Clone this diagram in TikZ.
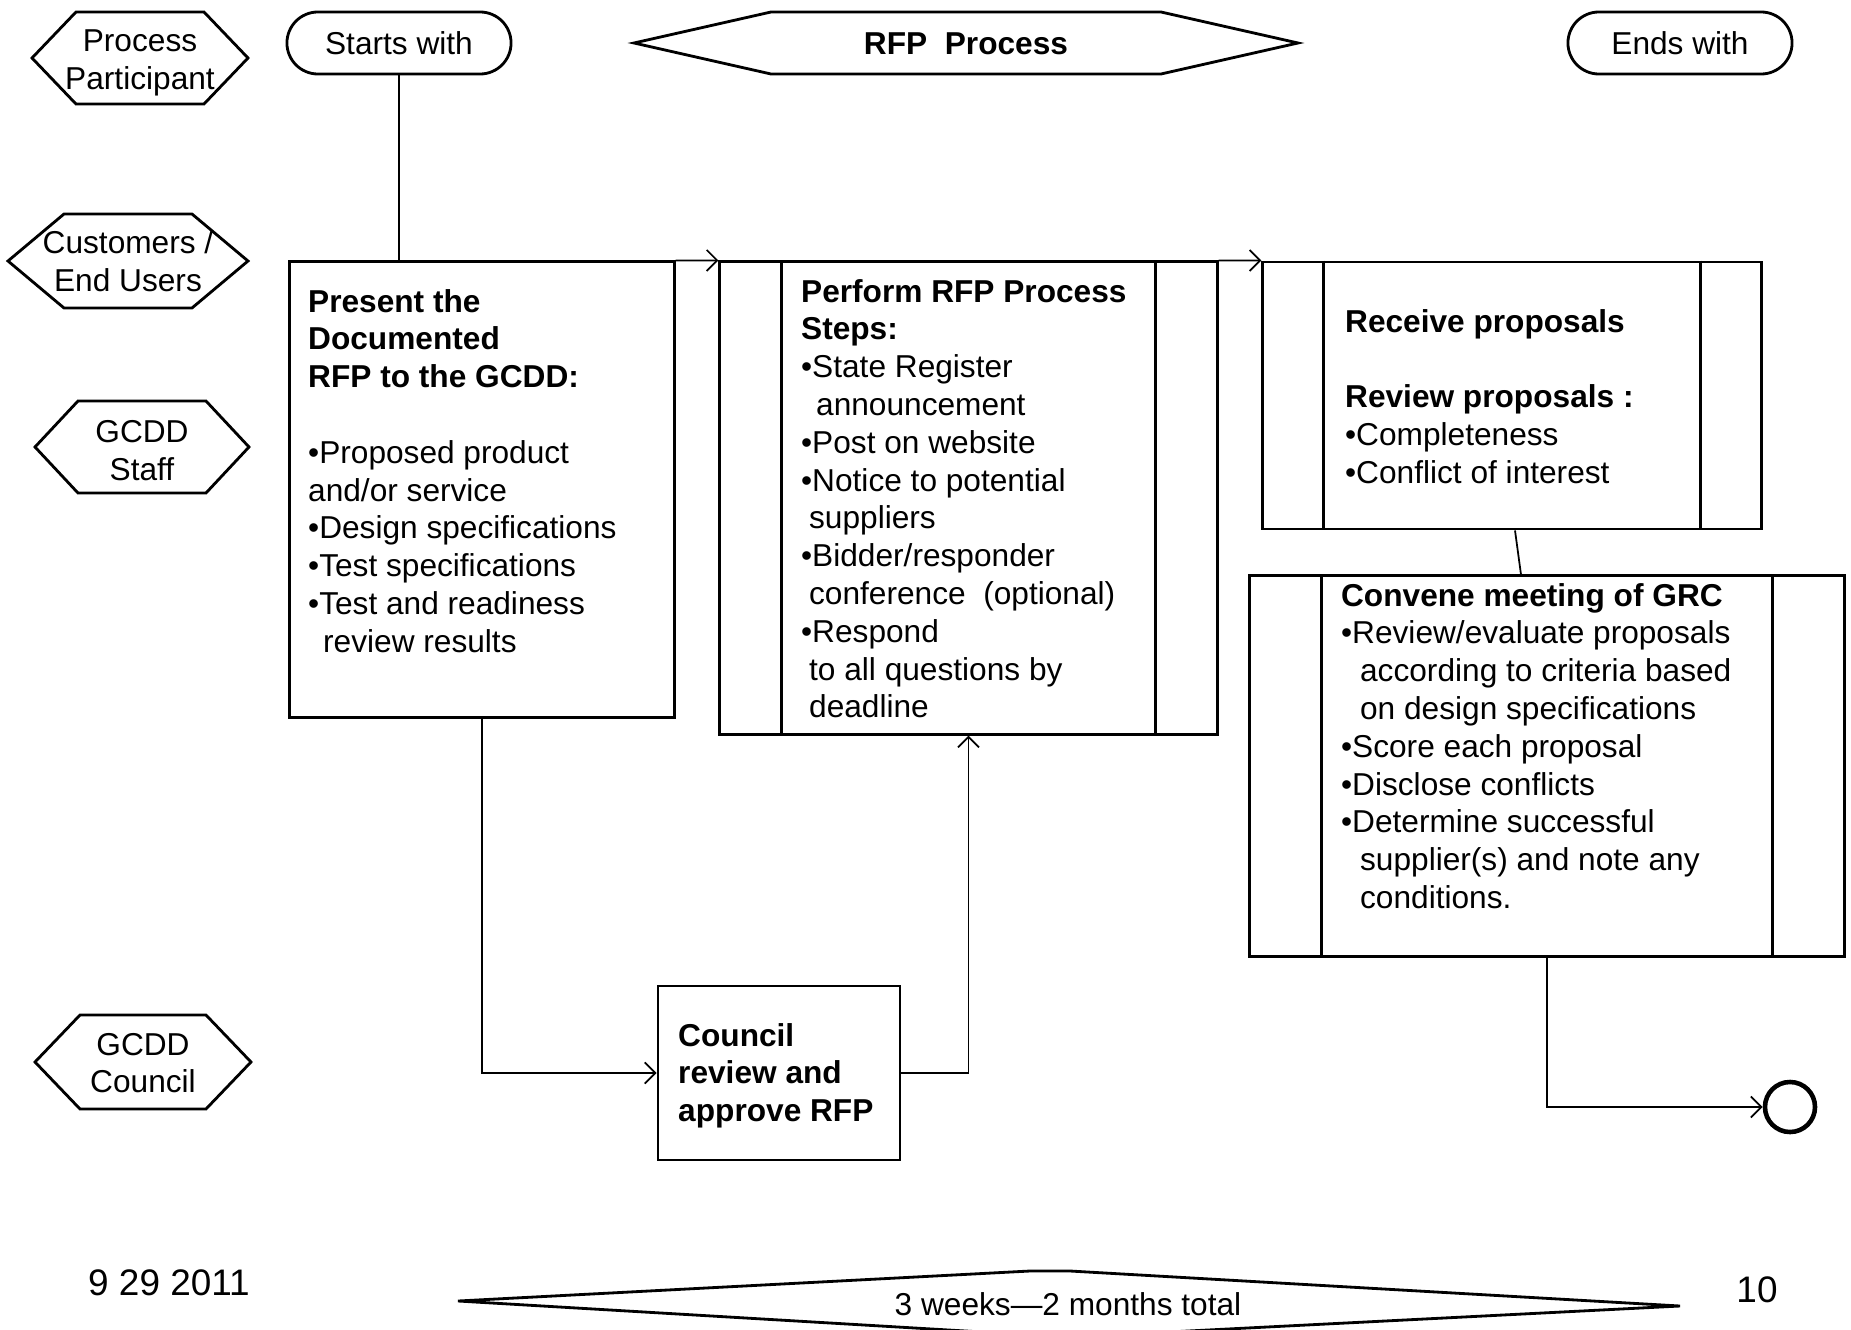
\documentclass[tikz,border=0pt]{standalone}
\usepackage{fontspec}
\setmainfont{Liberation Sans}
\usetikzlibrary{arrows.meta}

\begin{document}
\begin{tikzpicture}[x=0.01cm, y=-0.01cm, line join=miter, >={Straight Barb[length=3pt,width=6pt]}, font=\fontsize{9}{10.75}\selectfont]
	\tikzset{box/.style={draw, line width=0.8pt, inner sep=0pt},
		txt/.style={anchor=north west, align=left, inner sep=0pt},
		lbl/.style={align=center, inner sep=0pt},
		pill/.style={draw, line width=0.8pt, rounded corners=0.31cm, minimum width=2.24cm, minimum height=0.62cm},
		link/.style={line width=0.5pt}}
	\useasboundingbox (0,0) rectangle (1851,1330);
	\foreach \n/\cx/\cy/\w/\h/\p/\d/\t in {pp/140/58/108/46/44/5/{Process\\Participant},
		cu/128/261/120/47/56/0/{Customers /\\End Users},
		st/142/447/107/46/43/4/{GCDD\\Staff},
		co/143/1062/108/47/45/1/{GCDD\\Council},
		rfp/966/43/332/31/137/1/{\textbf{RFP\ \ Process}}}
	{
		\draw[line width=0.8pt] ({\cx-\w},\cy) -- ({\cx-\w+\p},{\cy-\h}) -- ({\cx+\w-\p},{\cy-\h}) -- ({\cx+\w},\cy)
			-- ({\cx+\w-\p},{\cy+\h}) -- ({\cx-\w+\p},{\cy+\h}) -- cycle;
		\node[lbl] (\n) at (\cx,{\cy+\d}) {\t};
	}
	\node[pill] (sw) at (399,43) {Starts with};
	\node[pill] (ew) at (1680,43) {Ends with};
	\node[box, minimum width=3.84cm, minimum height=4.55cm] (b1) at (482,489.5) {};
	\node[box, minimum width=4.97cm, minimum height=4.72cm] (b2) at (968.5,498) {};
	\node[box, minimum width=4.98cm, minimum height=2.67cm] (b3) at (1512,395.5) {};
	\node[box, minimum width=5.94cm, minimum height=3.80cm] (b4) at (1547,766) {};
	\node[box, minimum width=2.42cm, minimum height=1.74cm] (b5) at (779,1073) {};
	\foreach \b/\s in {b2/0.63cm, b3/0.62cm, b4/0.73cm}
		\draw[line width=0.8pt] ([xshift=\s]\b.north west) -- ([xshift=\s]\b.south west)
			([xshift=-\s]\b.north east) -- ([xshift=-\s]\b.south east);
	\node[txt] (t1) at ([shift={(19,28)}]b1.north west) {\textbf{Present the}\\ \textbf{Documented}\\ \textbf{RFP to the GCDD:}\\ \mbox{}\\
		•Proposed product\\ and/or service\\ •Design specifications\\ •Test specifications\\ •Test and readiness\\ \hspace*{0.15cm}review results};
	\node[txt] (t2) at ([shift={(82,18)}]b2.north west) {\textbf{Perform RFP Process}\\ \textbf{Steps:}\\ •State Register\\ \hspace*{0.15cm}announcement\\
		•Post on website\\ •Notice to potential\\ \hspace*{0.08cm}suppliers\\ •Bidder/responder\\ \hspace*{0.08cm}conference\ \ (optional)\\
		•Respond\\ \hspace*{0.08cm}to all questions by\\ \hspace*{0.08cm}deadline};
	\node[txt] (t3) at ([shift={(83,48)}]b3.north west) {\textbf{Receive proposals}\\ \mbox{}\\ \textbf{Review proposals :}\\ •Completeness\\ •Conflict of interest};
	\node[txt] (t4) at ([shift={(92,8)}]b4.north west) {\textbf{Convene meeting of GRC}\\ •Review/evaluate proposals\\ \hspace*{0.19cm}according to criteria based\\
		\hspace*{0.19cm}on design specifications\\ •Score each proposal\\ •Disclose conflicts\\ •Determine successful\\
		\hspace*{0.19cm}supplier(s) and note any\\ \hspace*{0.19cm}conditions.};
	\node[txt] (t5) at ([shift={(21,38)}]b5.north west) {\textbf{Council}\\ \textbf{review and}\\ \textbf{approve RFP}};
	\node[circle, draw, line width=1.3pt, minimum size=0.5cm, inner sep=0pt] (endc) at (1790,1107) {};
	\draw[link] (sw.south) -- (sw.south |- b1.north);
	\draw[link, ->] (b1.north east) -- (b2.north west);
	\draw[link, ->] (b2.north east) -- (b3.north west);
	\draw[link] ([xshift=0.03cm]b3.south) -- ([xshift=-0.26cm]b4.north);
	\draw[link, ->] (b1.south) |- (b5.west);
	\draw[link, ->] (b5.east) -| (b2.south);
	\draw[link, ->] (b4.south) |- (endc.west);
	\draw[line width=0.8pt] (458,1301) -- (1030,1271) -- (1070,1271) -- (1680,1306) -- (1090,1336) -- (1050,1336) -- cycle;
	\node[lbl] (span) at (1068,1304) {3 weeks—2 months total};
	\node[lbl, font=\fontsize{10.5}{12}\selectfont] (date) at (169,1283) {9 29 2011};
	\node[lbl, font=\fontsize{10.5}{12}\selectfont] (pg) at (1757,1290) {10};
\end{tikzpicture}
\end{document}
